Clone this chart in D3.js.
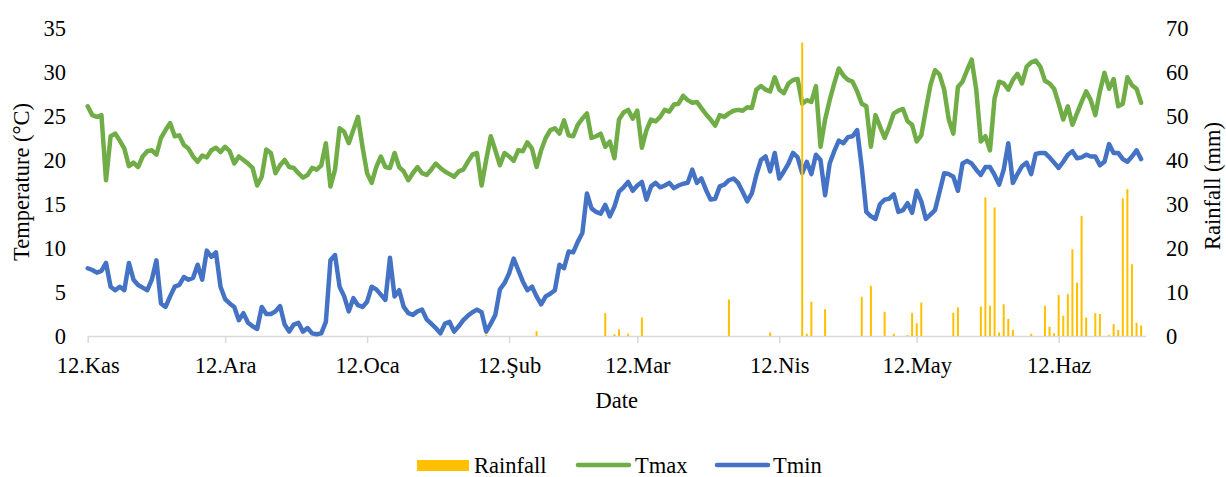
<!DOCTYPE html>
<html>
<head>
<meta charset="utf-8">
<script src="https://cdn.jsdelivr.net/npm/d3@7"></script>
<style>
  body { margin: 0; background: #fff; }
  svg { display: block; }
  text { font-family: "Liberation Serif", "Times New Roman", serif; fill: #000; }
</style>
</head>
<body>
<svg id="chart" width="1226" height="477"></svg>
<script>
// Daily series, 12 Nov 2017 .. 30 Jun 2018
const startDate = "2017-11-12";

const tmax = [
  26.1, 25.1, 24.9, 25.1, 17.7, 22.7, 23.0, 22.2, 21.3, 19.3,
  19.7, 19.2, 20.4, 21.0, 21.1, 20.6, 22.5, 23.4, 24.2, 22.7,
  22.8, 21.7, 21.3, 20.4, 19.8, 20.5, 20.3, 21.1, 21.4, 20.9,
  21.5, 21.0, 19.6, 20.4, 20.0, 19.6, 19.1, 17.1, 18.1, 21.2,
  20.8, 18.5, 19.4, 20.0, 19.2, 19.1, 18.5, 18.0, 18.3, 19.1,
  18.9, 19.4, 21.9, 17.0, 18.9, 23.6, 23.2, 21.9, 23.4, 24.9,
  21.5, 18.5, 17.4, 19.2, 20.4, 19.2, 19.1, 20.8, 19.2, 18.7,
  17.7, 18.5, 19.2, 18.5, 18.3, 18.9, 19.6, 19.1, 18.7, 18.4,
  18.1, 18.7, 18.9, 19.8, 20.6, 20.8, 17.1, 20.0, 22.7, 21.1,
  19.4, 20.8, 20.4, 19.9, 21.1, 21.0, 22.0, 21.3, 19.2, 21.1,
  22.5, 23.4, 23.6, 23.0, 24.5, 22.8, 22.7, 24.0, 24.7, 25.3,
  22.5, 22.7, 23.0, 21.5, 22.1, 20.2, 24.6, 25.4, 25.7, 24.7,
  25.6, 21.4, 23.4, 24.6, 24.4, 24.9, 25.7, 25.5, 26.3, 26.4,
  27.3, 26.8, 26.5, 26.6, 25.9, 25.2, 24.6, 23.9, 25.1, 24.9,
  25.3, 25.6, 25.7, 25.6, 26.0, 25.9, 28.0, 28.4, 28.0, 27.8,
  29.4, 28.0, 27.6, 28.7, 29.1, 29.2, 26.4, 26.8, 26.6, 28.4,
  21.5, 24.6, 26.8, 28.7, 30.4, 29.6, 29.1, 28.9, 27.8, 26.4,
  26.1, 21.5, 25.1, 23.8, 22.5, 23.8, 25.3, 25.6, 25.8, 24.4,
  24.0, 22.1, 22.8, 25.7, 28.5, 30.2, 29.7, 28.0, 24.6, 23.0,
  28.3, 28.9, 30.2, 31.4, 28.0, 22.1, 22.7, 21.1, 27.0, 28.9,
  28.7, 28.0, 29.1, 29.8, 28.7, 30.6, 31.1, 31.3, 30.6, 29.0,
  28.7, 28.1, 26.4, 24.6, 26.1, 24.0, 25.3, 26.6, 27.8, 26.8,
  25.1, 27.8, 29.9, 28.1, 29.2, 26.1, 26.4, 29.4, 28.5, 28.1,
  26.5
];

const tmin = [
  7.7, 7.5, 7.2, 7.4, 8.3, 5.6, 5.2, 5.6, 5.2, 8.3,
  6.4, 5.8, 5.5, 5.2, 6.4, 8.6, 3.7, 3.3, 4.5, 5.6,
  5.8, 6.7, 6.4, 6.6, 8.1, 6.4, 9.7, 9.0, 9.5, 5.6,
  4.2, 3.7, 3.3, 1.8, 2.6, 1.5, 1.1, 0.8, 3.3, 2.5,
  2.5, 2.8, 3.4, 1.3, 0.5, 1.3, 1.5, 0.5, 0.9, 0.3,
  0.2, 0.3, 1.6, 8.6, 9.2, 5.6, 4.5, 2.8, 4.3, 3.5,
  3.3, 3.9, 5.6, 5.3, 4.7, 4.1, 8.9, 4.5, 5.2, 3.3,
  2.6, 2.4, 2.8, 3.0, 1.9, 1.4, 0.9, 0.3, 1.4, 1.6,
  0.5, 1.1, 1.8, 2.3, 2.7, 3.0, 2.7, 0.5, 1.4, 2.4,
  5.3, 6.0, 7.1, 8.8, 7.5, 6.2, 5.2, 5.6, 4.5, 3.6,
  4.5, 4.8, 5.2, 8.1, 7.7, 9.6, 9.5, 10.7, 11.7, 16.2,
  14.5, 14.1, 13.9, 14.9, 13.6, 14.7, 16.4, 16.9, 17.5, 16.5,
  17.1, 17.5, 15.5, 17.0, 17.4, 16.9, 17.1, 17.4, 16.8, 17.1,
  17.3, 17.4, 18.9, 17.4, 17.9, 16.6, 15.5, 15.6, 17.0, 17.2,
  17.7, 17.9, 17.4, 16.4, 15.3, 16.2, 18.3, 20.0, 20.4, 18.7,
  20.8, 17.9, 18.7, 19.6, 20.8, 20.3, 18.5, 19.8, 18.4, 20.6,
  20.0, 16.0, 19.6, 21.0, 22.2, 21.9, 22.6, 22.7, 23.4, 19.2,
  14.1, 13.6, 13.3, 15.0, 15.5, 15.6, 16.1, 14.1, 14.3, 15.1,
  14.0, 16.5, 15.3, 13.3, 13.8, 14.3, 16.4, 18.5, 18.4, 18.1,
  16.5, 19.6, 19.9, 19.6, 18.9, 18.3, 19.2, 19.2, 18.3, 17.2,
  18.9, 21.9, 17.4, 18.4, 19.3, 19.7, 18.4, 20.7, 20.8, 20.8,
  20.3, 19.7, 19.1, 19.8, 20.6, 21.0, 20.2, 20.3, 20.6, 20.4,
  20.4, 19.4, 19.8, 21.8, 20.8, 20.8, 20.1, 19.8, 20.4, 21.1,
  20.1
];

// Rainy days only (mm)
const rainDates = [
  "2018-02-07", "2018-02-18", "2018-03-05", "2018-03-07", "2018-03-08",
  "2018-03-10", "2018-03-13", "2018-04-01", "2018-04-10", "2018-04-17",
  "2018-04-18", "2018-04-19", "2018-04-22", "2018-04-30", "2018-05-02",
  "2018-05-05", "2018-05-07", "2018-05-10", "2018-05-11", "2018-05-12",
  "2018-05-13", "2018-05-20", "2018-05-21", "2018-05-26", "2018-05-27",
  "2018-05-28", "2018-05-29", "2018-05-30", "2018-05-31", "2018-06-01",
  "2018-06-02", "2018-06-06", "2018-06-09", "2018-06-10", "2018-06-11",
  "2018-06-12", "2018-06-13", "2018-06-14", "2018-06-15", "2018-06-16",
  "2018-06-17", "2018-06-18", "2018-06-20", "2018-06-21", "2018-06-23",
  "2018-06-24", "2018-06-25", "2018-06-26", "2018-06-27", "2018-06-28",
  "2018-06-29", "2018-06-30"
];
const rainMm = [
  0.3, 1.1, 5.2, 0.4, 1.5,
  0.5, 4.2, 8.3, 0.8, 66.7,
  0.5, 7.8, 6.1, 8.9, 11.4,
  5.5, 0.5, 0.2, 5.2, 2.9,
  7.6, 5.3, 6.5, 6.7, 31.5,
  6.9, 29.2, 0.8, 7.2, 3.9,
  1.4, 0.5, 6.8, 2.1, 0.6,
  9.3, 4.6, 9.5, 19.7, 12.1,
  27.3, 4.2, 5.2, 5.0, 0.2,
  2.7, 1.4, 31.3, 33.4, 16.3,
  3.0, 2.4
];

const monthTicks = ["2017-11-12", "2017-12-12", "2018-01-12", "2018-02-12",
                    "2018-03-12", "2018-04-12", "2018-05-12", "2018-06-12"];
const monthLabels = ["12.Kas", "12.Ara", "12.Oca", "12.Şub", "12.Mar", "12.Nis", "12.May", "12.Haz"];
const tempTicks = [0, 5, 10, 15, 20, 25, 30, 35];
const rainTicks = [0, 10, 20, 30, 40, 50, 60, 70];

const parse = d3.utcParse("%Y-%m-%d");
const t0 = parse(startDate);
const days = tmax.map((_, i) => d3.utcDay.offset(t0, i));

const svg = d3.select("#chart");
const plot = { left: 87.7, right: 1145.7, top: 28, bottom: 336 };

const x = d3.scaleUtc()
  .domain([t0, d3.utcDay.offset(t0, 231)])
  .range([plot.left, plot.right]);
const yT = d3.scaleLinear().domain([0, 35]).range([plot.bottom, plot.top]);
const yR = d3.scaleLinear().domain([0, 70]).range([plot.bottom, plot.top]);

const FS = 22.5;

// bottom date axis
const xAxis = d3.axisBottom(x)
  .tickValues(monthTicks.map(parse))
  .tickFormat((d, i) => monthLabels[i])
  .tickSizeInner(7)
  .tickSizeOuter(0)
  .tickPadding(14);
const gx = svg.append("g").attr("transform", `translate(0,${plot.bottom})`).call(xAxis);
gx.select(".domain").attr("stroke", "#D9D9D9").attr("stroke-width", 1.5);
gx.selectAll(".tick line").attr("stroke", "#D9D9D9").attr("stroke-width", 1.5);
gx.selectAll(".tick text").attr("font-size", FS).attr("fill", "#000")
  .attr("font-family", "Liberation Serif, Times New Roman, serif");

// left temperature axis (labels only)
const gl = svg.append("g").attr("transform", "translate(66,0)")
  .call(d3.axisLeft(yT).tickValues(tempTicks).tickSize(0).tickPadding(0));
gl.select(".domain").remove();
gl.selectAll(".tick text").attr("font-size", FS).attr("fill", "#000")
  .attr("font-family", "Liberation Serif, Times New Roman, serif");

// right rainfall axis (labels only)
const gr = svg.append("g").attr("transform", "translate(1166,0)")
  .call(d3.axisRight(yR).tickValues(rainTicks).tickSize(0).tickPadding(0));
gr.select(".domain").remove();
gr.selectAll(".tick text").attr("font-size", FS).attr("fill", "#000")
  .attr("font-family", "Liberation Serif, Times New Roman, serif");

// temperature lines
const line = vals => d3.line()
  .x((d, i) => x(days[i]))
  .y(d => yT(d))(vals);

svg.append("path").attr("d", line(tmax))
  .attr("fill", "none").attr("stroke", "#70AD47").attr("stroke-width", 4.5)
  .attr("stroke-linejoin", "round").attr("stroke-linecap", "round");
svg.append("path").attr("d", line(tmin))
  .attr("fill", "none").attr("stroke", "#4472C4").attr("stroke-width", 4.5)
  .attr("stroke-linejoin", "round").attr("stroke-linecap", "round");

// rainfall bars on the secondary axis
svg.append("g").selectAll("rect")
  .data(rainDates.map((d, i) => ({ date: parse(d), mm: rainMm[i] })))
  .join("rect")
  .attr("x", d => x(d.date) - 1)
  .attr("width", 2)
  .attr("y", d => yR(d.mm))
  .attr("height", d => yR(0) - yR(d.mm))
  .attr("fill", "#FFC000");

// axis titles
svg.append("text")
  .attr("transform", "translate(29,182) rotate(-90)")
  .attr("text-anchor", "middle")
  .attr("font-size", FS)
  .text("Temperature (°C)");
svg.append("text")
  .attr("transform", "translate(1220,186) rotate(-90)")
  .attr("text-anchor", "middle")
  .attr("font-size", FS)
  .text("Rainfall (mm)");
svg.append("text")
  .attr("x", (plot.left + plot.right) / 2)
  .attr("y", 408)
  .attr("text-anchor", "middle")
  .attr("font-size", FS)
  .text("Date");

// legend
const lg = svg.append("g");
lg.append("rect").attr("x", 417).attr("y", 460).attr("width", 52).attr("height", 11).attr("fill", "#FFC000");
lg.append("text").attr("x", 474).attr("y", 472.5).attr("font-size", FS).text("Rainfall");
lg.append("line").attr("x1", 578).attr("x2", 629).attr("y1", 465).attr("y2", 465)
  .attr("stroke", "#70AD47").attr("stroke-width", 4.5).attr("stroke-linecap", "round");
lg.append("text").attr("x", 635).attr("y", 472.5).attr("font-size", FS).text("Tmax");
lg.append("line").attr("x1", 717).attr("x2", 768).attr("y1", 465).attr("y2", 465)
  .attr("stroke", "#4472C4").attr("stroke-width", 4.5).attr("stroke-linecap", "round");
lg.append("text").attr("x", 773).attr("y", 472.5).attr("font-size", FS).text("Tmin");
</script>
</body>
</html>
